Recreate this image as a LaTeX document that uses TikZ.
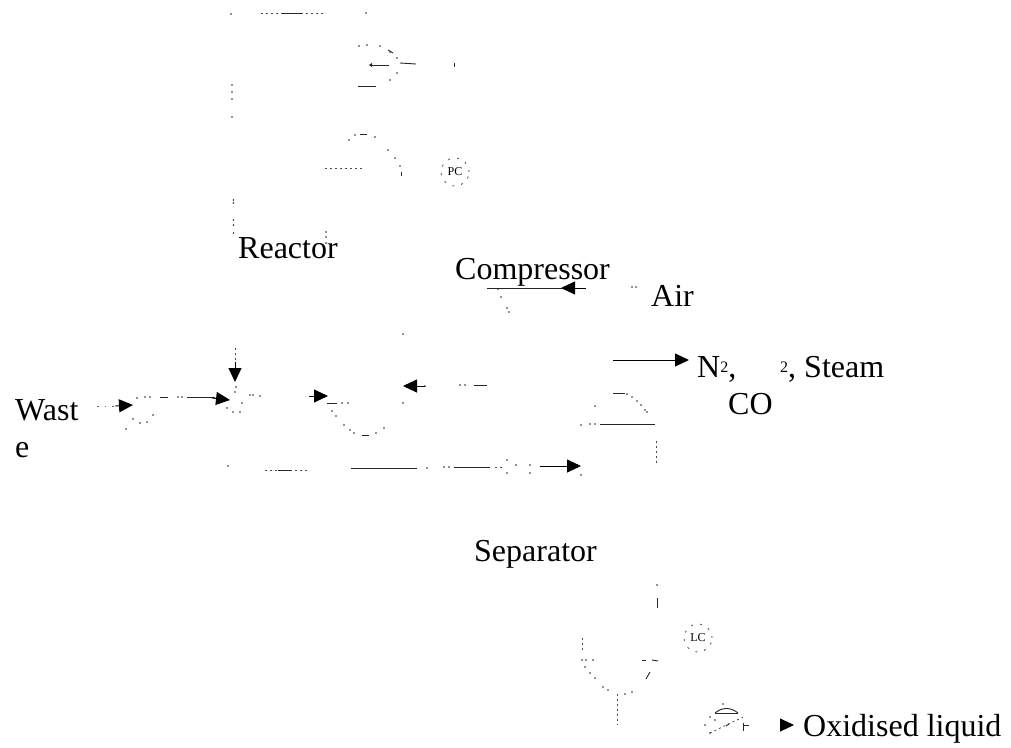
\documentclass[tikz,border=0pt]{standalone}
\usepackage{fontspec}
\setmainfont{Liberation Serif}
\usetikzlibrary{arrows.meta}
\newcommand{\specks}[1]{\foreach \p in {#1}{\fill[black!85] \p circle (0.8);}}
\tikzset{
  x=1pt,y=-1pt,
  label text/.style={inner sep=0pt,anchor=base west,font=\fontsize{32}{32}\selectfont},
  small label/.style={inner sep=0pt,anchor=center,font=\fontsize{12}{12}\selectfont},
  seg/.style={line width=0.9pt,black!85},
  fine/.style={line width=0.8pt,black!70,dash pattern=on 2pt off 3pt},
  sparse/.style={line width=0.8pt,black!60,dash pattern=on 1.5pt off 6pt},
  flow/.style={line width=0.9pt,black,-{Triangle[length=14pt,width=13pt]}},
  ring/.style={circle,minimum size=28pt,inner sep=0pt,draw=black!70,line width=0.8pt,dash pattern=on 2pt off 7pt},
}
\begin{document}
\begin{tikzpicture}
\useasboundingbox (0,0) rectangle (1011,747);
% Labels
\node[label text] (reactor) at (238,258) {Reactor};
\node[label text] (compressor) at (455,279) {Compressor};
\node[label text] (air) at (651,306) {Air};
\node[label text] (wast) at (15,420) {Wast};
\node[label text] (wastb) at (15,457) {e};
\node[label text] (sep) at (474,561) {Separator};
\node[label text] (ntwo) at (697,377) {N\raisebox{5pt}{\fontsize{16}{16}\selectfont 2},};
\node[label text] (co) at (728,414) {CO};
\node[label text] (steam) at (780,377) {\raisebox{5pt}{\fontsize{16}{16}\selectfont 2}, Steam};
\node[label text] (oxliq) at (803,736) {Oxidised liquid};
% Controllers
\node[ring,small label] (pc) at (455,172) {PC};
\node[ring,small label] (lc) at (698,638) {LC};
% Reactor outline fragments
\specks{(231,14),(366,13),(232,85),(232,92),(232,99),(232,117),(233.5,200),(233.5,203),(233.5,220),(233.5,225),(233.5,233),(326,232),(326,237),(326,243)}
\draw[fine] (261,13) -- (326,13);
\draw[seg] (282,13) -- (302,13);
% Top vessel
\specks{(359,46),(367,45),(380,46),(390,52),(397,58),(397,73),(390,80)}
\draw[seg] (388,50) -- (393,53);
\coordinate (ka) at (389,65); \coordinate (kb) at (369,65);
\draw[seg,-{Triangle[length=3pt,width=4pt]}] (ka) -- (kb);
\draw[seg] (400,63) -- (416,64);
\draw[seg] (454,63) -- (454,67);
\draw[seg] (358,86) -- (376,86);
% Second dome
\specks{(349,140),(355,135),(375,137),(388,150),(395,158),(400,166)}
\draw[seg] (360,134.5) -- (367,134.5);
\draw[seg] (401,172) -- (401,176);
\draw[fine] (325,168) -- (364,168);
% Compressor
\coordinate (ca) at (586,288); \coordinate (cb) at (561,288); \coordinate (cc) at (487,288);
\draw[seg] (ca) -- (cc);
\draw[flow] (ca) -- (cb);
\specks{(498,289),(501,297),(507,308),(509,312),(632,287),(636,287)}
% Off-gas arrow
\coordinate (oa) at (613,360); \coordinate (ob) at (689,360);
\draw[flow] (oa) -- (ob);
% Recycle arrow
\coordinate (ra) at (425,386); \coordinate (rb) at (403,386);
\draw[flow] (ra) -- (rb);
\specks{(425,386),(460,385),(465,385),(403,334),(403,403)}
\draw[seg] (474,385) -- (487,385);
% Exchanger
\coordinate (ea) at (309,396); \coordinate (eb) at (328,396);
\draw[flow] (ea) -- (eb);
\draw[seg] (327,403) -- (337,403);
\specks{(342,403),(348,403),(332,411),(336,416),(344,425),(350,430),(354,433),(376,433),(384,428)}
\draw[seg] (362,435) -- (369,435);
% Waste feed
\coordinate (wa) at (97,406); \coordinate (wb) at (133,405);
\draw[sparse] (wa) -- (115,406);
\draw[flow] (115,406) -- (wb);
\specks{(137,398),(145,397),(150,397),(133,419),(140,423),(147,422),(153,415),(126,429)}
\draw[seg] (160,397) -- (168,397);
\specks{(178,397),(182,397)}
\coordinate (mx) at (230,400);
\draw[seg] (187,397) -- (215,397);
\draw[flow] (212,398) -- (mx);
% Vertical feed to mixer
\coordinate (va) at (235,348); \coordinate (vb) at (235,382);
\draw[fine] (va) -- (235,366);
\draw[flow] (235,362) -- (vb);
\specks{(236,387),(235,392),(250,395),(253,395),(260,396),(227,408),(233,412),(240,412),(242,403),(228,466)}
% Bottom line
\draw[fine] (265,470) -- (310,470);
\draw[seg] (278,470) -- (290,470);
\draw[seg] (351,468) -- (417,468);
\specks{(427,468),(444,467),(449,467),(507,460),(516,465),(507,473),(530,473),(530,465),(581,475)}
\draw[seg] (454,467) -- (490,467);
\draw[fine] (495,467) -- (505,467);
\coordinate (ba) at (540,466); \coordinate (bb) at (581,466);
\draw[flow] (ba) -- (bb);
% Separator dome
\draw[seg] (613,393) -- (625,393);
\specks{(627,394),(632,397),(637,401),(641,405),(645,410),(647,412),(595,406),(581,425),(590,424),(595,424)}
\draw[seg] (600,424) -- (655,424);
\draw[fine] (656,441) -- (656,464);
% Separator base
\specks{(657,585)}
\draw[seg] (657,598) -- (657,608);
\draw[fine] (582,638) -- (582,652);
\specks{(582,660),(586,660),(593,660),(585,667),(590,673),(595,678),(603,687),(608,690),(625,694),(632,692)}
\draw[seg] (642,660) -- (646,660);
\draw[seg] (652,660) -- (658,661);
\draw[seg] (646,679) -- (650,672);
\draw[fine] (617,694) -- (617,725);
% Valve
\draw[seg] (715,713) -- (738,713);
\draw[seg] (715,713) .. controls (722,707) and (731,707) .. (738,713);
\specks{(723,704),(705,725),(710,717),(715,720),(710,733)}
\draw[fine] (710,733) -- (743,717);
\draw[seg] (726,726) -- (729,724);
\draw[seg] (743,723) -- (743,731);
\draw[seg] (743,725) -- (749,725);
\coordinate (ta) at (780,725); \coordinate (tb) at (794,725);
\draw[flow] (ta) -- (tb);
\end{tikzpicture}
\end{document}
